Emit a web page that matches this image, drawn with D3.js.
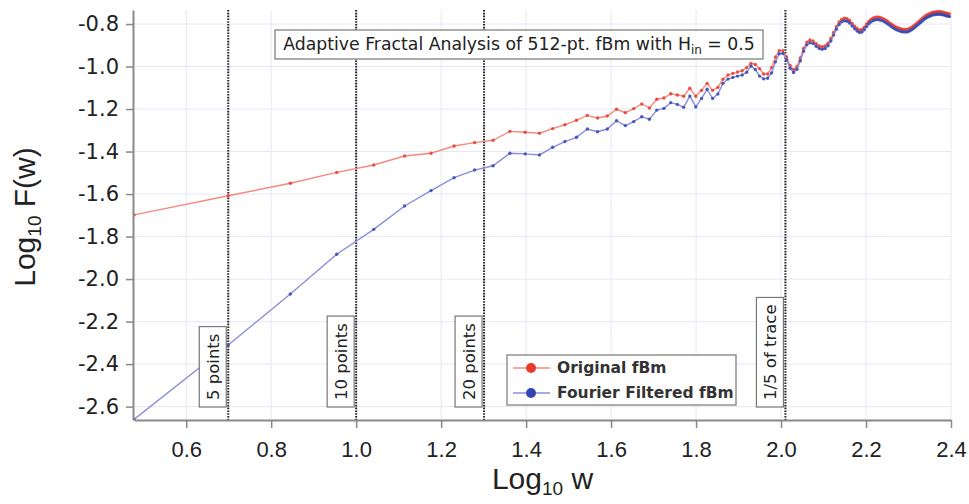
<!DOCTYPE html>
<html>
<head>
<meta charset="utf-8">
<script src="https://cdn.jsdelivr.net/npm/d3@7"></script>
<style>
  body { margin: 0; background: #fff; }
  svg { display: block; }
  .tick line { stroke: #888; stroke-width: 1.5; }
  .domain { stroke: #8a8a8a; stroke-width: 2; }
</style>
</head>
<body>
<svg width="969" height="504"></svg>
<script>
// window sizes (odd, 2n+1)
const windows = [3, 5, 7, 9, 11, 13, 15, 17, 19, 21, 23, 25, 27, 29, 31, 33, 35, 37, 39, 41,
  43, 45, 47, 49, 51, 53, 55, 57, 59, 61, 63, 65, 67, 69, 71, 73, 75, 77, 79, 81,
  83, 85, 87, 89, 91, 93, 95, 97, 99, 101, 103, 105, 107, 109, 111, 113, 115, 117, 119, 121,
  123, 125, 127, 129, 131, 133, 135, 137, 139, 141, 143, 145, 147, 149, 151, 153, 155, 157, 159, 161,
  163, 165, 167, 169, 171, 173, 175, 177, 179, 181, 183, 185, 187, 189, 191, 193, 195, 197, 199, 201,
  203, 205, 207, 209, 211, 213, 215, 217, 219, 221, 223, 225, 227, 229, 231, 233, 235, 237, 239, 241,
  243, 245, 247, 249]

// log10 F(w), original fBm
const original = [-1.698, -1.608, -1.549, -1.498, -1.463, -1.421, -1.408, -1.374, -1.358, -1.347,
  -1.305, -1.309, -1.314, -1.292, -1.274, -1.253, -1.230, -1.242, -1.233, -1.201,
  -1.217, -1.198, -1.176, -1.195, -1.154, -1.148, -1.128, -1.134, -1.140, -1.102,
  -1.140, -1.112, -1.079, -1.112, -1.098, -1.060, -1.040, -1.032, -1.026, -1.020,
  -1.005, -0.985, -0.990, -1.010, -1.035, -1.035, -1.005, -0.955, -0.925, -0.925,
  -0.955, -0.995, -1.015, -1.000, -0.960, -0.915, -0.885, -0.875, -0.880, -0.893,
  -0.903, -0.907, -0.903, -0.890, -0.868, -0.840, -0.812, -0.790, -0.777, -0.773,
  -0.775, -0.783, -0.797, -0.810, -0.821, -0.828, -0.826, -0.815, -0.800, -0.787,
  -0.777, -0.771, -0.768, -0.767, -0.769, -0.772, -0.777, -0.783, -0.790, -0.797,
  -0.804, -0.810, -0.815, -0.819, -0.822, -0.824, -0.825, -0.825, -0.824, -0.820,
  -0.815, -0.809, -0.802, -0.795, -0.788, -0.781, -0.774, -0.767, -0.761, -0.756,
  -0.752, -0.749, -0.746, -0.744, -0.743, -0.742, -0.742, -0.742, -0.743, -0.745,
  -0.747, -0.749, -0.751, -0.753]

// log10 F(w), Fourier filtered fBm
const filtered = [-2.660, -2.310, -2.070, -1.883, -1.766, -1.656, -1.584, -1.523, -1.487, -1.467,
  -1.408, -1.411, -1.416, -1.380, -1.353, -1.333, -1.294, -1.307, -1.294, -1.255,
  -1.278, -1.259, -1.236, -1.248, -1.205, -1.197, -1.170, -1.178, -1.192, -1.139,
  -1.190, -1.150, -1.107, -1.150, -1.129, -1.079, -1.059, -1.051, -1.045, -1.040,
  -1.027, -0.998, -1.014, -1.045, -1.058, -1.055, -1.030, -0.978, -0.940, -0.938,
  -0.968, -1.008, -1.028, -1.013, -0.973, -0.928, -0.898, -0.888, -0.892, -0.905,
  -0.915, -0.919, -0.915, -0.902, -0.880, -0.852, -0.824, -0.802, -0.789, -0.785,
  -0.787, -0.795, -0.809, -0.822, -0.833, -0.840, -0.838, -0.827, -0.812, -0.799,
  -0.789, -0.783, -0.780, -0.779, -0.781, -0.784, -0.789, -0.795, -0.802, -0.809,
  -0.816, -0.822, -0.827, -0.831, -0.834, -0.836, -0.837, -0.837, -0.836, -0.832,
  -0.827, -0.821, -0.814, -0.807, -0.800, -0.793, -0.786, -0.779, -0.773, -0.768,
  -0.764, -0.761, -0.758, -0.756, -0.755, -0.754, -0.754, -0.754, -0.755, -0.757,
  -0.759, -0.761, -0.763, -0.765]

const xTicks = [0.6, 0.8, 1.0, 1.2, 1.4, 1.6, 1.8, 2.0, 2.2, 2.4]
const yTicks = [-2.6, -2.4, -2.2, -2.0, -1.8, -1.6, -1.4, -1.2, -1.0, -0.8]

// reference scales marked by dotted lines
const markWindows = [5, 10, 20, 512 / 5]
const markLabels = ["5 points", "10 points", "20 points", "1/5 of trace"]

const seriesNames = ["Original fBm", "Fourier Filtered fBm"]
const lineColors = ["#f58a7e", "#8c8ddc"]
const dotColors = ["#ea3a2c", "#3346b0"]

const svg = d3.select("svg")
const plotLeft = 134, plotRight = 951, plotTop = 10, plotBottom = 420

const x = d3.scaleLinear().domain([Math.log10(3), 2.4]).range([plotLeft, plotRight])
const y = d3.scaleLinear().domain([-2.663, -0.734]).range([plotBottom, plotTop])

// grid
svg.append("g")
  .selectAll("line")
  .data(xTicks)
  .enter()
  .append("line")
  .attr("x1", d => x(d)).attr("x2", d => x(d))
  .attr("y1", plotTop).attr("y2", plotBottom)
  .attr("stroke", "#e6e6f6")

svg.append("g")
  .selectAll("line")
  .data(yTicks)
  .enter()
  .append("line")
  .attr("x1", plotLeft).attr("x2", plotRight)
  .attr("y1", d => y(d)).attr("y2", d => y(d))
  .attr("stroke", "#e6e6f6")

// dotted reference lines
svg.append("g")
  .selectAll("line")
  .data(markWindows)
  .enter()
  .append("line")
  .attr("x1", d => x(Math.log10(d))).attr("x2", d => x(Math.log10(d)))
  .attr("y1", plotTop).attr("y2", plotBottom)
  .attr("stroke", "#222")
  .attr("stroke-width", 2)
  .attr("stroke-dasharray", "1.6,1.2")

// data
svg.append("clipPath").attr("id", "plot")
  .append("rect").attr("x", plotLeft).attr("y", plotTop - 4)
  .attr("width", plotRight - plotLeft + 2).attr("height", plotBottom - plotTop + 4)

const series = [original, filtered]
const line = d3.line()
  .x((d, i) => x(Math.log10(windows[i])))
  .y(d => y(d))

series.forEach((vals, k) => {
  const g = svg.append("g").attr("clip-path", "url(#plot)")
  g.append("path")
    .datum(vals)
    .attr("d", line)
    .attr("fill", "none")
    .attr("stroke", lineColors[k])
    .attr("stroke-width", 1.4)
  g.selectAll("circle")
    .data(vals)
    .enter()
    .append("circle")
    .attr("cx", (d, i) => x(Math.log10(windows[i])))
    .attr("cy", d => y(d))
    .attr("r", 1.7)
    .attr("fill", dotColors[k])
    .attr("opacity", 0.85)
})

// axes
const yAxis = svg.append("g")
  .attr("transform", `translate(${plotLeft - 1},0)`)
  .call(d3.axisLeft(y).tickValues(yTicks).tickFormat(d => d.toFixed(1)).tickSize(7).tickSizeOuter(0).tickPadding(7))
yAxis.selectAll("text")
  .attr("font-family", "DejaVu Sans")
  .attr("font-size", 21)
  .attr("fill", "#222")

const xAxis = svg.append("g")
  .attr("transform", `translate(0,${plotBottom})`)
  .call(d3.axisBottom(x).tickValues(xTicks).tickFormat(d => d.toFixed(1)).tickSize(8).tickSizeOuter(0).tickPadding(13))
xAxis.selectAll("text")
  .attr("font-family", "Liberation Sans Narrow, Liberation Sans")
  .attr("font-size", 22)
  .attr("fill", "#222")

// axis titles
const xTitle = svg.append("text")
  .attr("x", (plotLeft + plotRight) / 2)
  .attr("y", 489)
  .attr("text-anchor", "middle")
  .attr("font-family", "Liberation Sans")
  .attr("font-size", 30)
  .attr("fill", "#222")
xTitle.append("tspan").text("Log")
xTitle.append("tspan").attr("font-size", 19).attr("dy", 6).text("10")
xTitle.append("tspan").attr("dy", -6).text(" w")

const yTitle = svg.append("text")
  .attr("transform", "translate(35,217) rotate(-90)")
  .attr("text-anchor", "middle")
  .attr("font-family", "Liberation Sans")
  .attr("font-size", 30)
  .attr("fill", "#222")
yTitle.append("tspan").text("Log")
yTitle.append("tspan").attr("font-size", 19).attr("dy", 6).text("10")
yTitle.append("tspan").attr("dy", -6).text(" F(w)")

// vertical labels next to dotted lines
markWindows.forEach((w, i) => {
  const xl = x(Math.log10(w))
  const g = svg.append("g")
  const rect = g.append("rect")
  const t = g.append("text")
    .attr("transform", `translate(${xl - 15},400) rotate(-90)`)
    .attr("dominant-baseline", "central")
    .attr("font-family", "DejaVu Sans")
    .attr("font-size", 16.5)
    .attr("fill", "#222")
    .text(markLabels[i])
  const len = t.node().getComputedTextLength()
  rect.attr("x", xl - 29).attr("width", 27)
    .attr("y", 400 - len - 7).attr("height", len + 14)
    .attr("fill", "#fff")
    .attr("stroke", "#777")
    .attr("stroke-width", 1.2)
})

// title box
const title = svg.append("g")
const titleRect = title.append("rect")
const titleText = title.append("text")
  .attr("x", 519)
  .attr("y", 50)
  .attr("text-anchor", "middle")
  .attr("font-family", "DejaVu Sans")
  .attr("font-size", 17.3)
  .attr("fill", "#222")
titleText.append("tspan").text("Adaptive Fractal Analysis of 512-pt. fBm with H")
titleText.append("tspan").attr("font-size", 12).attr("dy", 4).text("in")
titleText.append("tspan").attr("dy", -4).text(" = 0.5")
titleRect.attr("x", 275).attr("y", 30).attr("width", 488).attr("height", 29)
  .attr("fill", "#fff").attr("stroke", "#777").attr("stroke-width", 1.2)

// legend
const legend = svg.append("g")
legend.append("rect")
  .attr("x", 507).attr("y", 355).attr("width", 229).attr("height", 50)
  .attr("fill", "#fff").attr("stroke", "#777").attr("stroke-width", 1.2)

const items = legend.selectAll("g")
  .data(seriesNames)
  .enter()
  .append("g")
  .attr("transform", (d, i) => `translate(0, ${368 + i * 25})`)

items.append("line")
  .attr("x1", 513).attr("x2", 550)
  .attr("stroke", (d, i) => lineColors[i])
  .attr("stroke-width", 1.5)
items.append("circle")
  .attr("cx", 531).attr("r", 5)
  .attr("fill", (d, i) => dotColors[i])
items.append("text")
  .attr("x", 557)
  .attr("dy", "0.35em")
  .attr("font-family", "DejaVu Sans")
  .attr("font-weight", "bold")
  .attr("font-size", 15.5)
  .attr("fill", "#333")
  .text(d => d)
</script>
</body>
</html>
